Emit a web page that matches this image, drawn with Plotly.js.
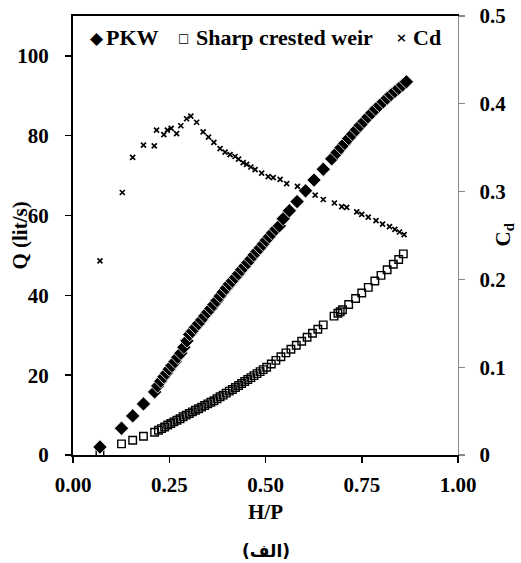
<!DOCTYPE html>
<html>
<head>
<meta charset="utf-8">
<script src="https://cdn.plot.ly/plotly-3.0.1.min.js"></script>
<style>html,body{margin:0;padding:0;background:#fff;}#chart{width:521px;height:563px;}</style>
</head>
<body>
<div id="chart"></div>
<script>
// PKW discharge Q (lit/s) vs H/P
const pkwX = [0.070,0.126,0.155,0.183,0.212,0.220,0.228,0.236,0.243,0.250,0.257,0.265,0.272,0.280,0.288,0.296,0.303,0.310,0.318,0.326,0.334,0.342,0.350,0.358,0.366,0.374,0.382,0.390,0.398,0.406,0.414,0.422,0.430,0.438,0.446,0.454,0.462,0.470,0.478,0.486,0.494,0.502,0.510,0.518,0.527,0.536,0.546,0.562,0.582,0.604,0.626,0.650,0.672,0.686,0.696,0.706,0.716,0.726,0.736,0.746,0.756,0.766,0.776,0.786,0.796,0.806,0.816,0.826,0.836,0.846,0.856,0.866];
const pkwQ = [2.0,6.7,9.8,12.8,15.8,17.3,18.5,19.6,20.5,21.5,22.4,23.4,24.5,25.5,27.0,28.6,30.2,31.0,32.0,32.9,33.8,34.8,35.8,36.7,37.7,38.7,39.8,40.8,41.8,42.8,43.6,44.5,45.4,46.4,47.3,48.2,49.1,50.1,51.0,51.9,52.8,53.8,54.7,55.6,56.6,57.4,59.2,61.2,63.5,66.2,68.9,71.6,74.2,75.8,77.0,78.1,79.3,80.4,81.5,82.6,83.6,84.7,85.7,86.7,87.6,88.5,89.4,90.3,91.1,91.9,92.7,93.5];

// Sharp crested weir discharge Q (lit/s) vs H/P
const sharpX = [0.070,0.126,0.155,0.183,0.212,0.222,0.230,0.238,0.246,0.254,0.262,0.270,0.278,0.286,0.294,0.302,0.310,0.318,0.326,0.334,0.342,0.350,0.358,0.366,0.374,0.382,0.390,0.398,0.406,0.414,0.422,0.430,0.438,0.446,0.454,0.462,0.470,0.478,0.486,0.494,0.503,0.515,0.527,0.540,0.553,0.566,0.580,0.594,0.608,0.622,0.636,0.650,0.678,0.688,0.694,0.700,0.716,0.734,0.750,0.767,0.784,0.800,0.816,0.832,0.846,0.858];
const sharpQ = [0.5,2.8,3.7,4.7,5.7,6.2,6.6,7.0,7.5,7.9,8.3,8.7,9.1,9.6,10.0,10.4,10.8,11.2,11.6,12.0,12.4,12.8,13.2,13.6,14.1,14.6,15.0,15.5,16.0,16.4,16.9,17.4,17.9,18.4,18.9,19.4,19.9,20.4,20.9,21.4,22.0,22.8,23.7,24.6,25.6,26.5,27.5,28.5,29.5,30.5,31.5,32.6,34.8,35.5,35.9,36.4,37.7,39.2,40.6,42.0,43.6,45.0,46.4,47.8,49.0,50.4];

// Discharge coefficient Cd vs H/P (right axis)
const cdX = [0.070,0.128,0.155,0.183,0.211,0.217,0.236,0.245,0.255,0.269,0.280,0.295,0.306,0.321,0.338,0.352,0.366,0.382,0.395,0.408,0.421,0.430,0.442,0.451,0.462,0.473,0.490,0.507,0.520,0.538,0.555,0.583,0.629,0.650,0.679,0.698,0.711,0.737,0.750,0.767,0.787,0.804,0.822,0.836,0.848,0.860];
const cdV = [0.221,0.299,0.339,0.353,0.352,0.370,0.365,0.370,0.372,0.366,0.375,0.383,0.386,0.379,0.368,0.362,0.356,0.349,0.345,0.342,0.340,0.337,0.333,0.331,0.328,0.325,0.321,0.317,0.316,0.314,0.309,0.306,0.296,0.291,0.287,0.283,0.282,0.277,0.274,0.271,0.267,0.263,0.260,0.257,0.254,0.251];

const seriesNames = ['PKW', 'Sharp crested weir', 'Cd'];
const xTickVals = [0, 0.25, 0.5, 0.75, 1.0];
const xTitle = 'H/P';
const yTitle = 'Q (lit/s)';
const y2Title = 'C<sub>d</sub>';
const caption = '(الف)';

const serif = 'Liberation Serif, Times New Roman, serif';
const F = (size) => ({family: serif, size: size, color: '#000', weight: 'bold'});

const traces = [
  {x: sharpX, y: sharpQ, name: seriesNames[1], type: 'scatter', mode: 'markers', yaxis: 'y',
   marker: {symbol: 'square-open', size: 7.5, color: '#000', line: {color: '#000', width: 1.4}}},
  {x: pkwX, y: pkwQ, name: seriesNames[0], type: 'scatter', mode: 'markers', yaxis: 'y',
   marker: {symbol: 'diamond', size: 11, color: '#000', line: {color: '#fff', width: 0.8}}},
  {x: cdX, y: cdV, name: seriesNames[2], type: 'scatter', mode: 'markers', yaxis: 'y2',
   marker: {symbol: 'x-thin', size: 5, color: '#000', line: {color: '#000', width: 1.7}}}
];

const legendY = 0.950;
const ann = (x, y, text, font, extra) => Object.assign({xref: 'paper', yref: 'paper', x: x, y: y, text: text, showarrow: false, xanchor: 'center', yanchor: 'middle', font: font}, extra || {});

const layout = {
  width: 521, height: 563,
  margin: {l: 73, r: 63, t: 16, b: 108},
  paper_bgcolor: '#fff', plot_bgcolor: '#fff',
  showlegend: false,
  font: F(21),
  xaxis: {
    range: [0, 1], tickvals: xTickVals, tickformat: '.2f',
    ticks: 'outside', ticklen: 6, tickwidth: 1.5, tickcolor: '#000',
    showline: true, linewidth: 2, linecolor: '#000', mirror: true,
    showgrid: false, zeroline: false, tickfont: F(21), ticklabelstandoff: 4
  },
  yaxis: {
    range: [0, 110], dtick: 20,
    ticks: 'outside', ticklen: 6, tickwidth: 1.5, tickcolor: '#000',
    showline: true, linewidth: 2, linecolor: '#000',
    showgrid: false, zeroline: false, tickfont: F(21), ticklabelstandoff: 12
  },
  yaxis2: {
    overlaying: 'y', side: 'right', range: [0, 0.5], dtick: 0.1,
    ticks: 'outside', ticklen: 6, tickwidth: 1.2, tickcolor: '#888',
    showline: true, linewidth: 1.2, linecolor: '#888',
    showgrid: false, zeroline: false, tickfont: F(21), ticklabelstandoff: 10
  },
  annotations: [
    // axis titles
    ann(0.5, -0.130, xTitle, F(21)),
    ann(-0.140, 0.5, yTitle, F(21), {textangle: -90}),
    ann(1.117, 0.5, y2Title, F(21), {textangle: -90}),
    // legend
    ann(0.0616, legendY, '◆', {family: 'DejaVu Sans', size: 17, color: '#000'}),
    ann(0.081, legendY, seriesNames[0], F(22), {xanchor: 'left'}),
    ann(0.288, legendY, '□', {family: 'DejaVu Sans', size: 12, color: '#000'}),
    ann(0.315, legendY, seriesNames[1], F(22), {xanchor: 'left'}),
    ann(0.854, legendY, '×', {family: 'DejaVu Sans', size: 13, color: '#000', weight: 'bold'}),
    ann(0.878, legendY, seriesNames[2], F(22), {xanchor: 'left'}),
    // caption
    ann(0.5, -0.219, caption, {family: 'DejaVu Sans, Liberation Serif', size: 17, color: '#000', weight: 'bold'})
  ]
};

Plotly.newPlot('chart', traces, layout, {displayModeBar: false, staticPlot: true});
</script>
</body>
</html>
